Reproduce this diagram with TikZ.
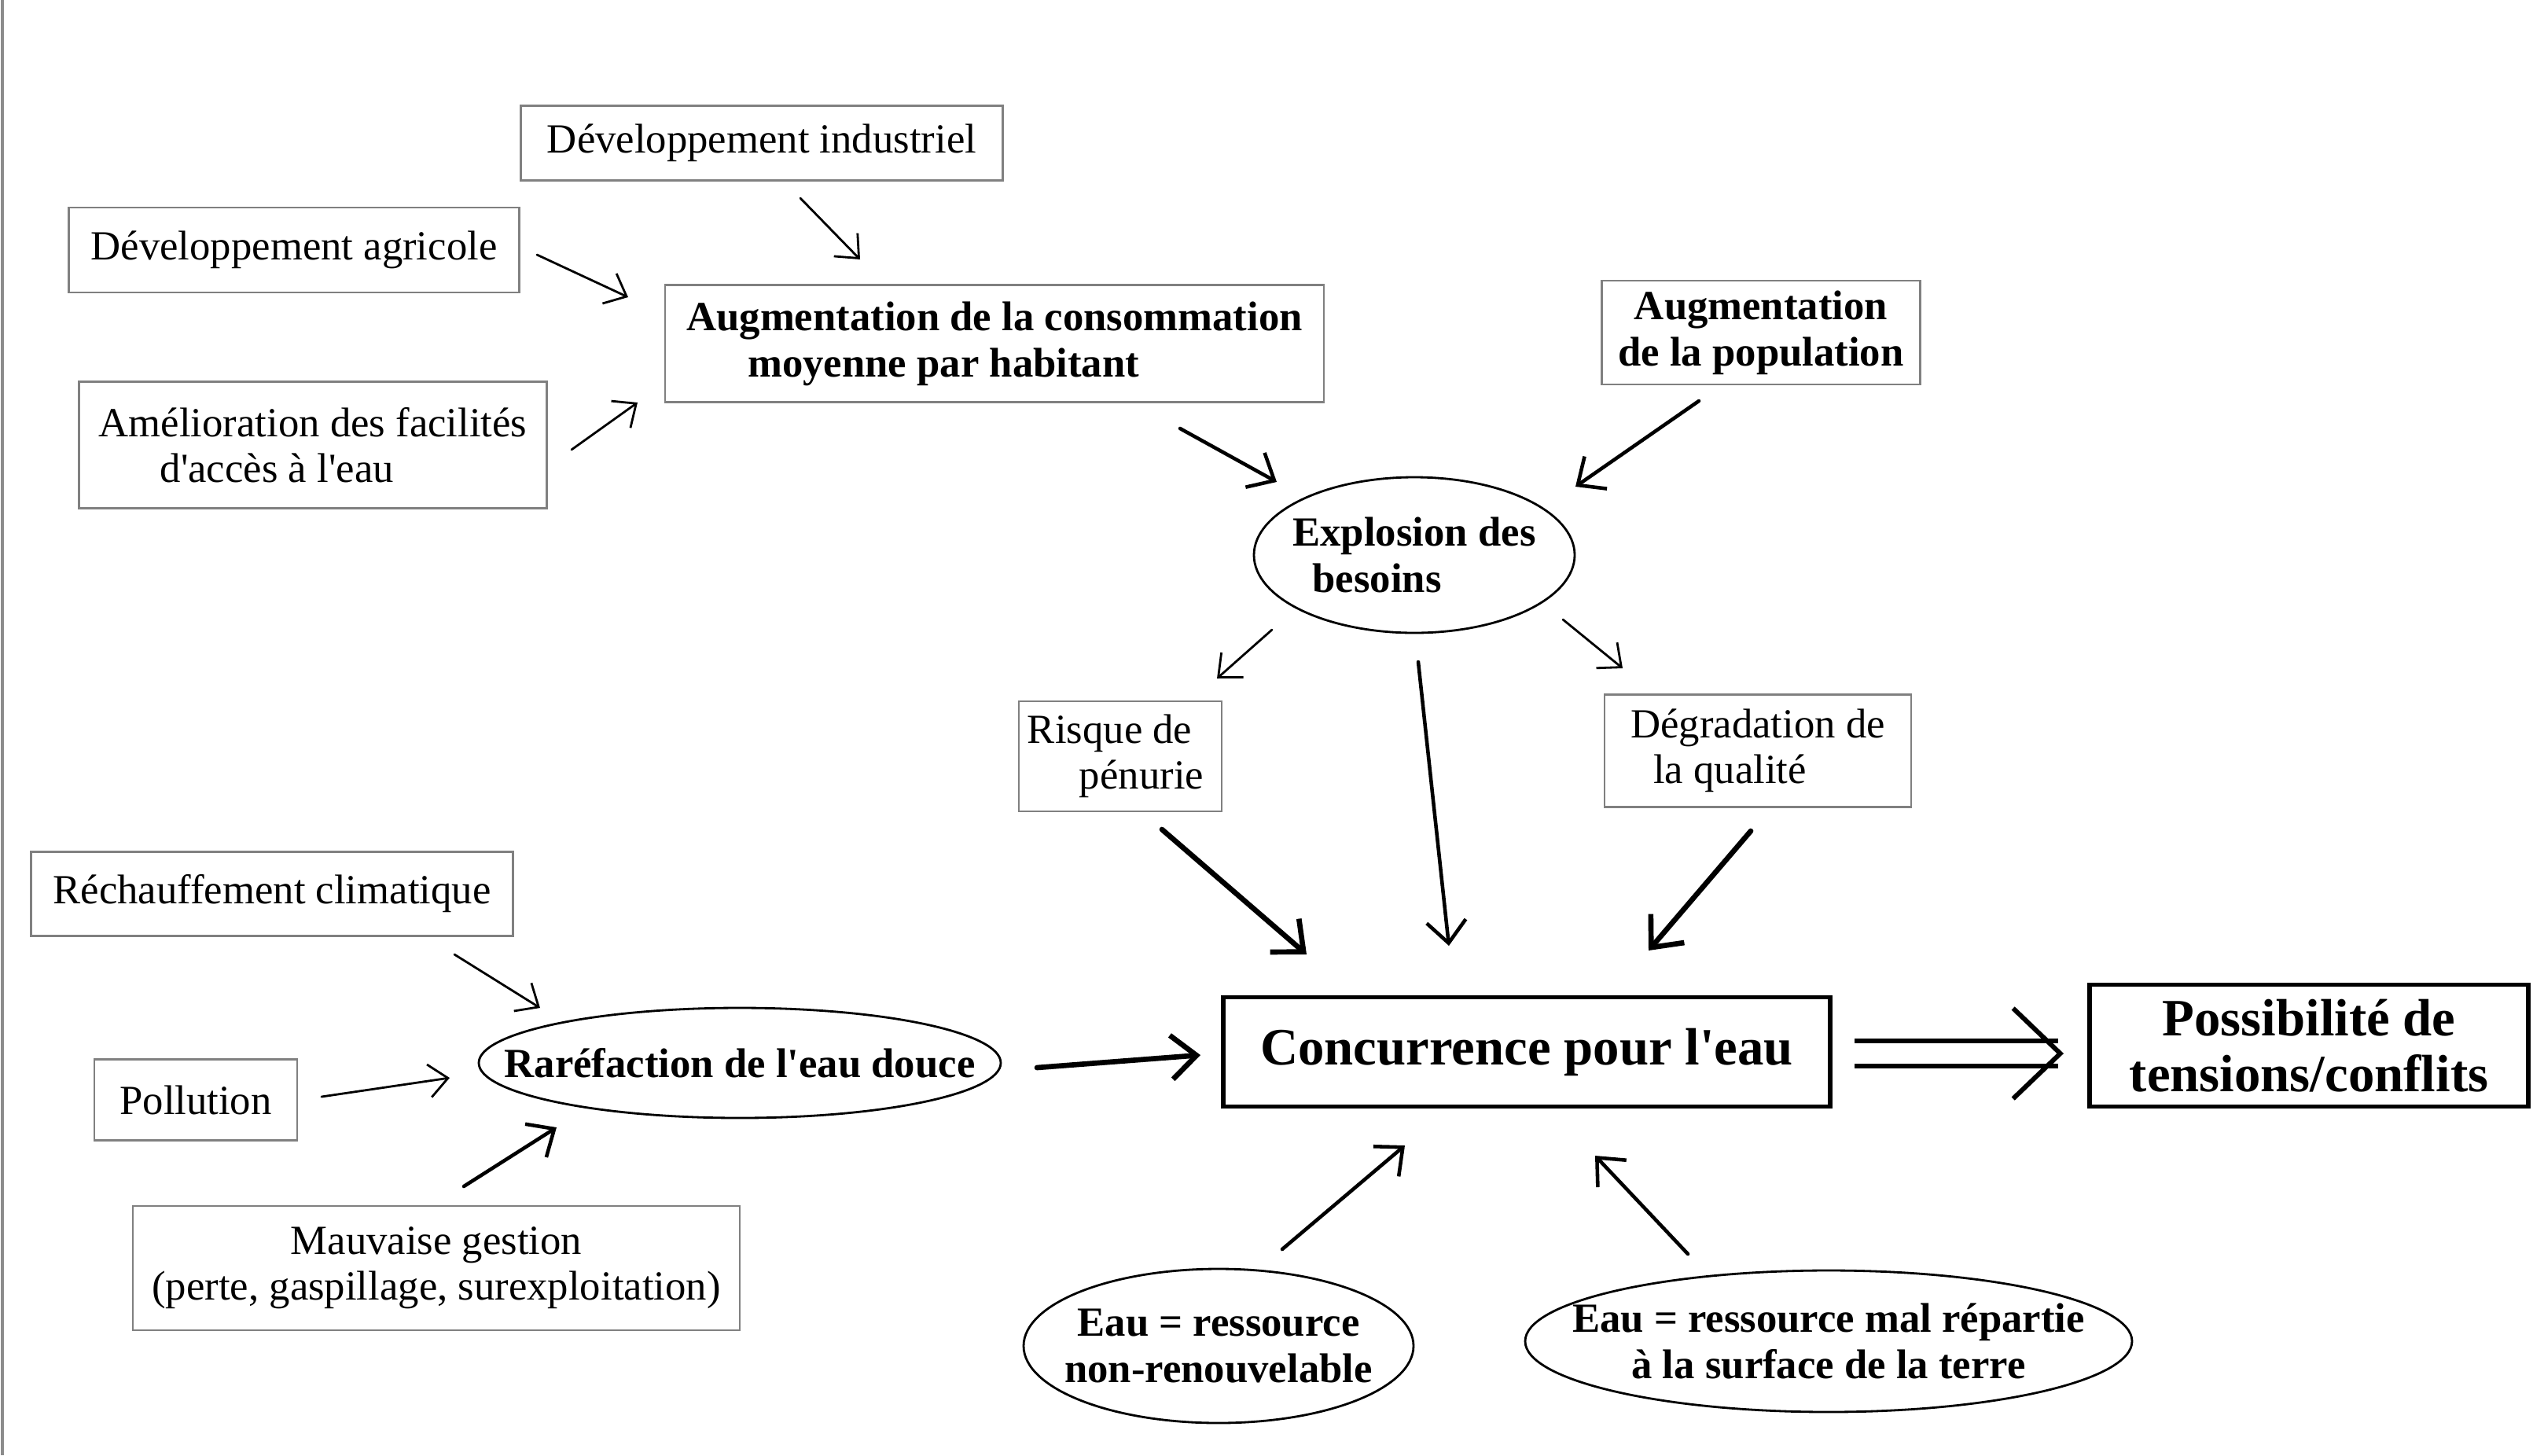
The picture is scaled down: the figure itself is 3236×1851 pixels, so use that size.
\documentclass[tikz,border=0pt]{standalone}
\usepackage{fontspec}
\setmainfont{Liberation Serif}
\usetikzlibrary{shapes.geometric,arrows.meta}

\begin{document}
\begin{tikzpicture}[x=0.1mm,y=-0.1mm]
% Polices
\def\Normal{\fontsize{15}{16.5}\selectfont}
\def\Gras{\fontsize{15}{16.8}\selectfont\bfseries}
\def\Grand{\fontsize{19}{20}\selectfont\bfseries}
\def\apos{\textquotesingle}
% Styles
\tikzstyle{fleche}=[-{Straight Barb[length=2.4mm,width=4.2mm]},line width=0.8pt,line cap=round]
\tikzstyle{flechemoy}=[-{Straight Barb[length=2.8mm,width=5mm]},line width=1.3pt,line cap=round]
\tikzstyle{flecheepaisse}=[-{Straight Barb[length=3.2mm,width=5.6mm]},line width=1.9pt,line cap=round]
\tikzstyle{flechedouble}=[-{Straight Barb[length=6mm,width=11.5mm]},double,double distance=2.6mm,line width=1.7pt]
\tikzstyle{boite}=[draw=black!50,line width=0.8pt,rectangle,inner sep=0pt,font=\Normal]
\tikzstyle{boitegras}=[boite,font=\Gras]
\tikzstyle{cadre}=[draw,line width=1.5pt,rectangle,inner sep=0pt,font=\Grand]
\tikzstyle{bulle}=[draw,line width=0.8pt,ellipse,inner sep=-1.5cm,font=\Gras]
% Cadre
\useasboundingbox (0,0) rectangle (3236,1851);
\draw[black!45,line width=1pt] (3,0) -- (3,1851);
% Noeuds
\node[boite,minimum width=6.13cm,minimum height=0.95cm] (Indus) at (969,182) {Développement industriel};
\node[boite,minimum width=5.73cm,minimum height=1.08cm] (Agri) at (374,318) {Développement agricole};
\node[boite,minimum width=5.95cm,minimum height=1.61cm,align=left] (Acces) at (398,566) {Amélioration des facilités\\\hspace*{0.78cm}d\apos accès à l\apos eau};
\node[boitegras,minimum width=8.38cm,minimum height=1.49cm,align=left] (Conso) at (1265,437) {Augmentation de la consommation\\\hspace*{0.78cm}moyenne par habitant};
\node[boitegras,minimum width=4.05cm,minimum height=1.32cm,align=center] (Pop) at (2240,423) {Augmentation\\de la population};
\node[bulle,minimum width=4.08cm,minimum height=1.98cm,align=left] (Explo) at (1799,706) {Explosion des\\\hspace*{0.25cm}besoins};
\node[boite,minimum width=2.58cm,minimum height=1.40cm,align=left] (Penurie) at (1425,962) {Risque de\\\hspace*{0.66cm}pénurie\hspace*{0.12cm}};
\node[boite,minimum width=3.90cm,minimum height=1.43cm,align=left] (Degrad) at (2236,955) {Dégradation de\\\hspace*{0.29cm}la qualité};
\node[boite,minimum width=6.13cm,minimum height=1.07cm] (Rechauf) at (346,1137) {Réchauffement climatique};
\node[boite,minimum width=2.58cm,minimum height=1.03cm] (Pollu) at (249,1399) {Pollution};
\node[bulle,minimum width=6.64cm,minimum height=1.40cm] (Rarefac) at (941,1352) {Raréfaction de l\apos eau douce};
\node[boite,minimum width=7.72cm,minimum height=1.58cm,align=center] (Gestion) at (555,1613) {Mauvaise gestion\\(perte, gaspillage, surexploitation)};
\node[cadre,minimum width=7.72cm,minimum height=1.39cm] (Concur) at (1942,1338) {Concurrence pour l\apos eau};
\node[cadre,minimum width=5.58cm,minimum height=1.55cm,align=center] (Tensions) at (2937,1330) {Possibilité de\\tensions/conflits};
\node[bulle,minimum width=4.96cm,minimum height=1.96cm,align=center] (NonRenouv) at (1550,1712) {Eau = ressource\\non-renouvelable};
\node[bulle,minimum width=7.72cm,minimum height=1.80cm,align=center] (Repart) at (2326,1706) {Eau = ressource mal répartie\\à la surface de la terre};
% Arcs
\draw[fleche] ([shift={(49,70)}]Indus.center) -- ([shift={(-171,-107)}]Conso.center);
\draw[fleche] ([shift={(309,6)}]Agri.center) -- ([shift={(-466,-59)}]Conso.center);
\draw[fleche] ([shift={(329,6)}]Acces.center) -- ([shift={(-454,75)}]Conso.center);
\draw[flechemoy] ([shift={(236,108)}]Conso.center) -- ([shift={(-175,-93)}]Explo.center);
\draw[flechemoy] ([shift={(-79,87)}]Pop.center) -- ([shift={(205,-87)}]Explo.center);
\draw[fleche] ([shift={(-181,95)}]Explo.center) -- ([shift={(123,-99)}]Penurie.center);
\draw[fleche] ([shift={(189,82)}]Explo.center) -- ([shift={(-172,-105)}]Degrad.center);
\draw[flechemoy] ([shift={(5,136)}]Explo.center) -- ([shift={(-99,-135)}]Concur.center);
\draw[flecheepaisse] ([shift={(53,93)}]Penurie.center) -- ([shift={(-280,-124)}]Concur.center);
\draw[flecheepaisse] ([shift={(-9,102)}]Degrad.center) -- ([shift={(155,-129)}]Concur.center);
\draw[fleche] ([shift={(232,77)}]Rechauf.center) -- ([shift={(-254,-70)}]Rarefac.center);
\draw[fleche] ([shift={(160,-4)}]Pollu.center) -- ([shift={(-369,19)}]Rarefac.center);
\draw[flechemoy] ([shift={(35,-104)}]Gestion.center) -- ([shift={(-233,82)}]Rarefac.center);
\draw[flecheepaisse] ([shift={(378,6)}]Rarefac.center) -- ([shift={(-415,4)}]Concur.center);
\draw[flechedouble] ([shift={(417,2)}]Concur.center) -- ([shift={(-312,10)}]Tensions.center);
\draw[flechemoy] ([shift={(81,-123)}]NonRenouv.center) -- ([shift={(-155,119)}]Concur.center);
\draw[flechemoy] ([shift={(-179,-111)}]Repart.center) -- ([shift={(87,132)}]Concur.center);
\end{tikzpicture}
\end{document}
